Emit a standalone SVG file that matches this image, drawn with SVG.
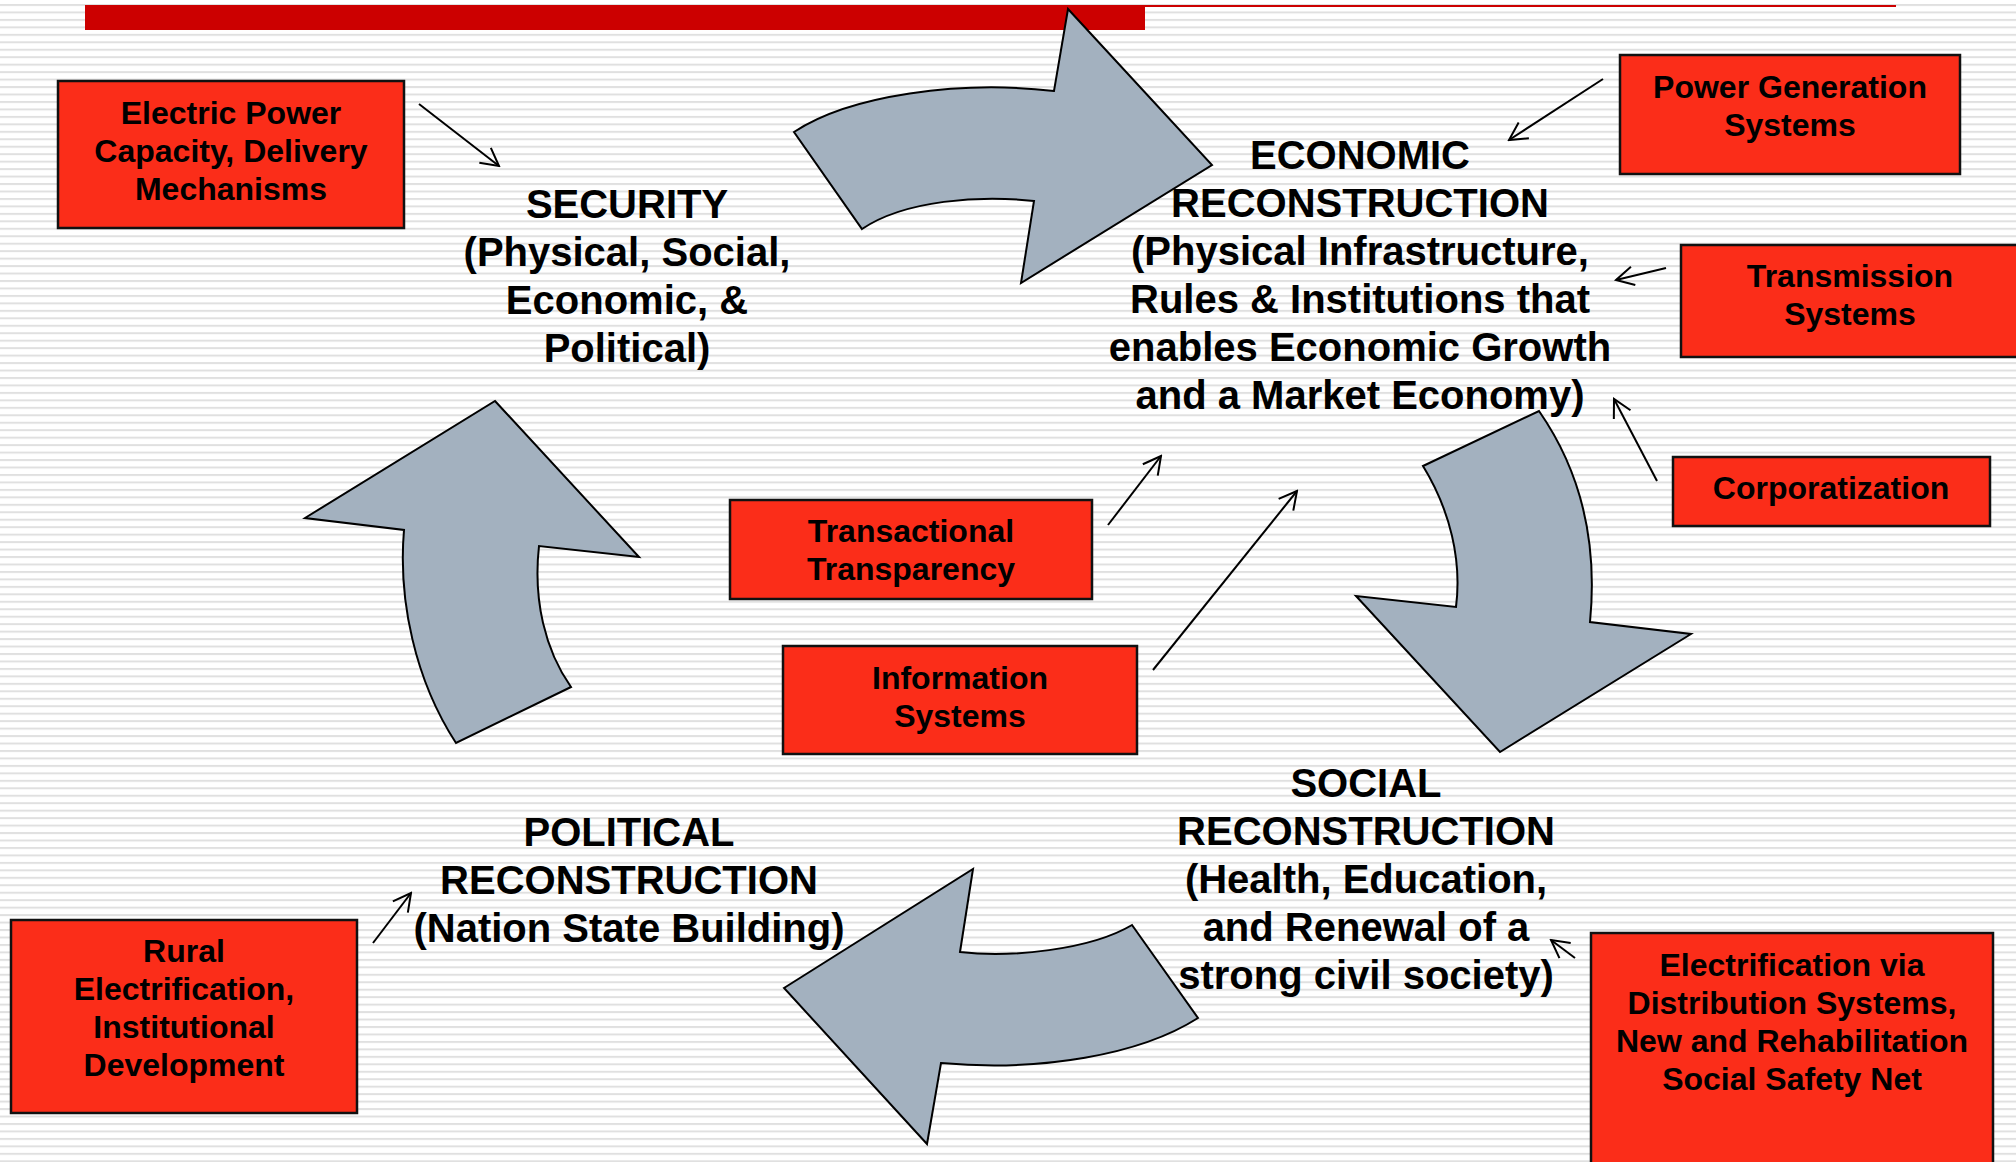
<svg xmlns="http://www.w3.org/2000/svg" width="2016" height="1162" viewBox="0 0 2016 1162">
<defs>
<pattern id="stripes" patternUnits="userSpaceOnUse" x="0" y="4" width="16" height="7.46">
<rect x="0" y="0" width="16" height="2" fill="#e0e0e0"/>
</pattern>
<marker id="open" markerUnits="userSpaceOnUse" viewBox="-20 -11 22 22" refX="0" refY="0" markerWidth="22" markerHeight="22" orient="auto">
<path d="M-17.6,-9.4 L0,0 L-17.6,9.4" fill="none" stroke="#000" stroke-width="2"/>
</marker>
</defs>
<style>
.big{font-family:"Liberation Sans",Arial,sans-serif;font-weight:bold;font-size:40px;fill:#000;text-anchor:middle}
.sm{font-family:"Liberation Sans",Arial,sans-serif;font-weight:bold;font-size:32px;fill:#000;text-anchor:middle}
.box{fill:#fb2d19;stroke:#111;stroke-width:2.5}
.cyc{fill:#a3b1bf;stroke:#000;stroke-width:2;stroke-linejoin:miter}
.con{stroke:#000;stroke-width:2;fill:none;marker-end:url(#open)}
</style>
<rect width="2016" height="1162" fill="#ffffff"/>
<rect width="2016" height="1162" fill="url(#stripes)"/>
<rect x="85" y="5" width="1060" height="25" fill="#cc0000"/>
<rect x="1145" y="5" width="751" height="2" fill="#cc0000"/>

<g id="cycle-arrows">
<path id="arrow-top" class="cyc" d="M794,132 C850,95 960,80 1054,91 L1068,9 L1212,165 L1021,283 L1034,201 C980,195 905,200 862,229 Z"/>
<path id="arrow-right" class="cyc" d="M1423,466 L1539,411 C1580,470 1598,540 1590,622 L1691,634 L1500,752 L1356,596 L1456,607 C1462,560 1450,510 1423,466 Z"/>
<path id="arrow-bottom" class="cyc" d="M784,988 L973,869 L960,952 C1010,958 1090,950 1132,925 L1198,1018 C1140,1055 1040,1072 941,1063 L927,1144 Z"/>
<path id="arrow-left" class="cyc" d="M495,401 L639,557 L539,546 C533,600 545,650 571,687 L456,743 C415,680 398,600 404,530 L305,518 Z"/>
</g>

<g id="connectors">
<line class="con" x1="419" y1="104" x2="499" y2="166"/>
<line class="con" x1="1603" y1="79" x2="1509" y2="140"/>
<line class="con" x1="1666" y1="268" x2="1616" y2="280"/>
<line class="con" x1="1657" y1="481" x2="1614" y2="399"/>
<line class="con" x1="1108" y1="525" x2="1161" y2="456"/>
<line class="con" x1="1153" y1="670" x2="1297" y2="491"/>
<line class="con" x1="373" y1="943" x2="411" y2="893"/>
<line class="con" x1="1575" y1="958" x2="1551" y2="940"/>
</g>

<g id="security">
<text class="big" x="627" y="218">SECURITY</text>
<text class="big" x="627" y="266">(Physical, Social,</text>
<text class="big" x="627" y="314">Economic, &amp;</text>
<text class="big" x="627" y="362">Political)</text>
</g>

<g id="economic">
<text class="big" x="1360" y="169">ECONOMIC</text>
<text class="big" x="1360" y="217">RECONSTRUCTION</text>
<text class="big" x="1360" y="265">(Physical Infrastructure,</text>
<text class="big" x="1360" y="313">Rules &amp; Institutions that</text>
<text class="big" x="1360" y="361">enables Economic Growth</text>
<text class="big" x="1360" y="409">and a Market Economy)</text>
</g>

<g id="social">
<text class="big" x="1366" y="797">SOCIAL</text>
<text class="big" x="1366" y="845">RECONSTRUCTION</text>
<text class="big" x="1366" y="893">(Health, Education,</text>
<text class="big" x="1366" y="941">and Renewal of a</text>
<text class="big" x="1366" y="989">strong civil society)</text>
</g>

<g id="political">
<text class="big" x="629" y="846">POLITICAL</text>
<text class="big" x="629" y="894">RECONSTRUCTION</text>
<text class="big" x="629" y="942">(Nation State Building)</text>
</g>

<g id="electric-power">
<rect class="box" x="58" y="81" width="346" height="147"/>
<text class="sm" x="231" y="124">Electric Power</text>
<text class="sm" x="231" y="162">Capacity, Delivery</text>
<text class="sm" x="231" y="200">Mechanisms</text>
</g>

<g id="power-generation">
<rect class="box" x="1620" y="55" width="340" height="119"/>
<text class="sm" x="1790" y="98">Power Generation</text>
<text class="sm" x="1790" y="136">Systems</text>
</g>

<g id="transmission">
<rect class="box" x="1681" y="245" width="345" height="112"/>
<text class="sm" x="1850" y="287">Transmission</text>
<text class="sm" x="1850" y="325">Systems</text>
</g>

<g id="corporatization">
<rect class="box" x="1673" y="457" width="317" height="69"/>
<text class="sm" x="1831" y="499">Corporatization</text>
</g>

<g id="transactional-transparency">
<rect class="box" x="730" y="500" width="362" height="99"/>
<text class="sm" x="911" y="542">Transactional</text>
<text class="sm" x="911" y="580">Transparency</text>
</g>

<g id="information-systems">
<rect class="box" x="783" y="646" width="354" height="108"/>
<text class="sm" x="960" y="689">Information</text>
<text class="sm" x="960" y="727">Systems</text>
</g>

<g id="rural-electrification">
<rect class="box" x="11" y="920" width="346" height="193"/>
<text class="sm" x="184" y="962">Rural</text>
<text class="sm" x="184" y="1000">Electrification,</text>
<text class="sm" x="184" y="1038">Institutional</text>
<text class="sm" x="184" y="1076">Development</text>
</g>

<g id="electrification-distribution">
<rect class="box" x="1591" y="933" width="402" height="240"/>
<text class="sm" x="1792" y="976">Electrification via</text>
<text class="sm" x="1792" y="1014">Distribution Systems,</text>
<text class="sm" x="1792" y="1052">New and Rehabilitation</text>
<text class="sm" x="1792" y="1090">Social Safety Net</text>
</g>
</svg>
